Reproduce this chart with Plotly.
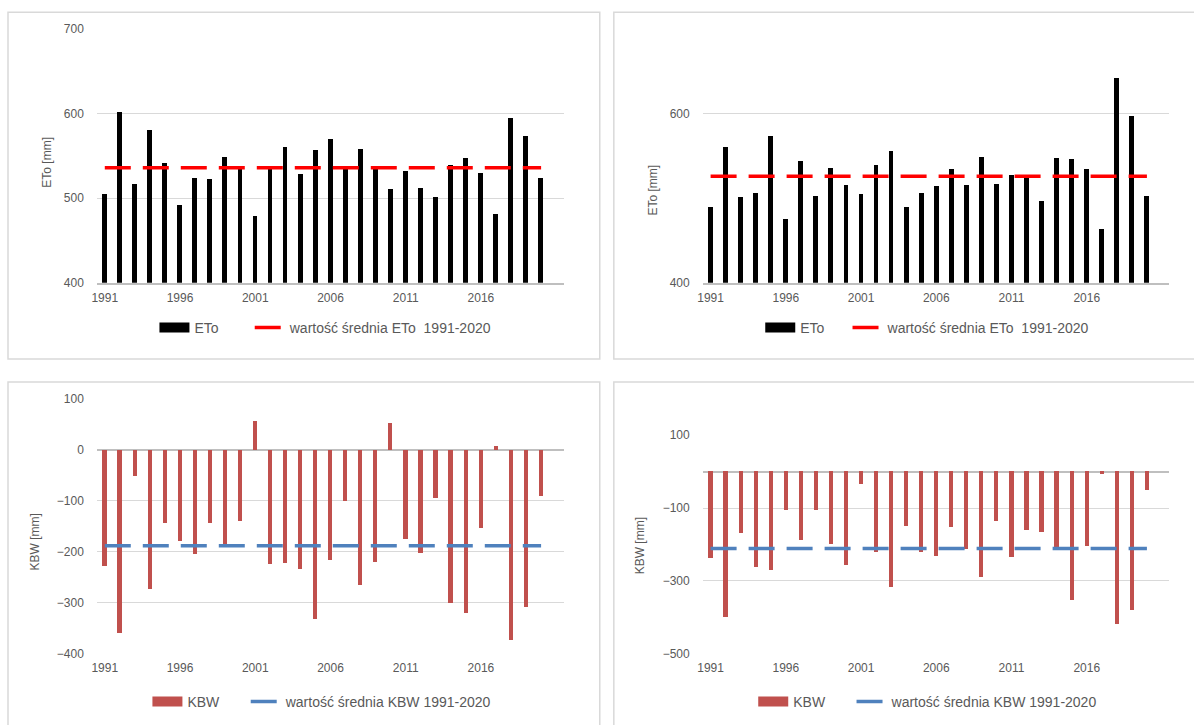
import plotly.graph_objects as go

# ---------------- data ----------------
years = list(range(1991, 2021))
xtick_vals = [1991, 1996, 2001, 2006, 2011, 2016]

eto_left = [505, 602, 517, 581, 541, 492, 524, 523, 548, 536,
            479, 535, 561, 529, 557, 570, 535, 558, 535, 511,
            532, 512, 501, 539, 547, 530, 481, 595, 573, 524]
eto_left_mean = 536

eto_right = [489, 560, 501, 506, 574, 475, 544, 502, 535, 516,
             505, 539, 556, 489, 506, 514, 534, 516, 548, 517,
             527, 526, 497, 547, 546, 534, 463, 642, 597, 503]
eto_right_mean = 526

kbw_left = [-228, -359, -51, -273, -143, -178, -205, -144, -190, -140,
            56, -224, -223, -233, -333, -216, -101, -266, -220, 52,
            -175, -203, -94, -300, -321, -154, 7, -374, -308, -90]
kbw_left_mean = -188

kbw_right = [-237, -401, -170, -263, -271, -107, -188, -107, -199, -257,
             -35, -221, -318, -150, -221, -232, -153, -214, -290, -137,
             -234, -161, -165, -212, -353, -206, -6, -420, -381, -52]
kbw_right_mean = -211

# ---------------- layout helpers ----------------
# target pixel positions (as measured on the reference) -> paper fractions,
# compensating for the small offset/scale seen in the captured picture
W, H = 1194, 725
SX, OX = 0.992, 7.0
SY, OY = 0.9784, 7.83
def px(x):
    return ((x - OX) / SX) / W
def py(y):
    return 1 - ((y - OY) / SY) / H

FONT = "Liberation Sans, Arial, sans-serif"
GRAY = "#595959"
GRID = "#d9d9d9"
AXIS = "#bfbfbf"
RED_BAR = "#c0504d"
BLUE = "#4f81bd"

panels = [
    dict(vals=eto_left, mean=eto_left_mean, name="ETo", mname="wartość średnia ETo  1991-2020",
         bar="#000000", line="#ff0000", bw=0.32, xd=(98, 563), yd=(30, 283), yr=[400, 700],
         tick0=400, dtick=100, title="ETo [mm]", tpos=(47, 163), leg1=(155, 328), leg2=(250, 328), zero=False),
    dict(vals=eto_right, mean=eto_right_mean, name="ETo", mname="wartość średnia ETo  1991-2020",
         bar="#000000", line="#ff0000", bw=0.32, xd=(702, 1167), yd=(30, 283), yr=[400, 700],
         tick0=400, dtick=200, title="ETo [mm]", tpos=(652, 190), leg1=(759, 328), leg2=(846, 328), zero=False),
    dict(vals=kbw_left, mean=kbw_left_mean, name="KBW", mname="wartość średnia KBW 1991-2020",
         bar=RED_BAR, line=BLUE, bw=0.28, xd=(98, 563), yd=(399, 653), yr=[-400, 100],
         tick0=100, dtick=100, title="KBW [mm]", tpos=(36, 542), leg1=(148, 701), leg2=(246, 701), zero=True),
    dict(vals=kbw_right, mean=kbw_right_mean, name="KBW", mname="wartość średnia KBW 1991-2020",
         bar=RED_BAR, line=BLUE, bw=0.28, xd=(702, 1167), yd=(435, 653), yr=[-500, 100],
         tick0=100, dtick=200, title="KBW [mm]", tpos=(640, 545), leg1=(752, 701), leg2=(850, 701), zero=True),
]

fig = go.Figure()
layout = dict(
    autosize=True, margin=dict(l=0, r=0, t=0, b=0),
    paper_bgcolor="white", plot_bgcolor="white",
    font=dict(family=FONT, color=GRAY, size=12),
    showlegend=True, shapes=[], annotations=[], bargap=0,
)

for i, p in enumerate(panels):
    n = "" if i == 0 else str(i + 1)
    xa, ya = "x" + n, "y" + n
    lgA = "legend" if i == 0 else "legend" + str(2 * i + 1)
    lgB = "legend" + str(2 * i + 2)
    fig.add_trace(go.Bar(x=years, y=p["vals"], width=p["bw"], marker=dict(color=p["bar"], line=dict(width=0)),
                         xaxis=xa, yaxis=ya, showlegend=False, name=p["name"]))
    # legend key for the bars (wide block like the original)
    fig.add_trace(go.Scatter(x=[None], y=[None], mode="lines", line=dict(color=p["bar"], width=13),
                             name=p["name"], xaxis=xa, yaxis=ya, legend=lgA))
    fig.add_trace(go.Scatter(x=years, y=[p["mean"]] * len(years), mode="lines",
                             line=dict(color=p["line"], width=3.5, dash="26px,12px"),
                             name=p["mname"], xaxis=xa, yaxis=ya, legend=lgB))
    layout["xaxis" + n] = dict(
        domain=[px(p["xd"][0]), px(p["xd"][1])], anchor=ya, range=[1990.5, 2021.5],
        tickmode="array", tickvals=xtick_vals, ticktext=[str(v) for v in xtick_vals],
        showgrid=False, zeroline=False, showline=not p["zero"], linecolor=AXIS, linewidth=2,
        ticks="outside", ticklen=3, tickcolor="rgba(0,0,0,0)", tickfont=dict(size=12, color=GRAY),
        fixedrange=True)
    layout["yaxis" + n] = dict(
        domain=[py(p["yd"][1]), py(p["yd"][0])], anchor=xa, range=p["yr"],
        tickmode="linear", tick0=p["tick0"], dtick=p["dtick"],
        showgrid=True, gridcolor=GRID, gridwidth=1,
        zeroline=p["zero"], zerolinecolor=AXIS, zerolinewidth=2,
        showline=False, ticks="outside", ticklen=10, tickcolor="rgba(0,0,0,0)",
        tickfont=dict(size=12, color=GRAY), fixedrange=True)
    for lg, key in ((lgA, "leg1"), (lgB, "leg2")):
        layout[lg] = dict(
            orientation="h", x=px(p[key][0]), y=py(p[key][1]), xanchor="left", yanchor="middle",
            font=dict(size=14, color=GRAY), bgcolor="rgba(0,0,0,0)", itemwidth=30)
    layout["annotations"].append(dict(
        text=p["title"], x=px(p["tpos"][0]), y=py(p["tpos"][1]), xref="paper", yref="paper",
        showarrow=False, textangle=-90, font=dict(size=12, color=GRAY),
        xanchor="center", yanchor="middle"))

# panel frames
for (x0, y0, x1, y1) in [(9, 13, 599, 359), (613, 13, 1215, 359), (9, 382, 599, 745), (613, 382, 1215, 745)]:
    layout["shapes"].append(dict(type="rect", xref="paper", yref="paper",
                                 x0=px(x0), x1=px(x1), y0=py(y1), y1=py(y0),
                                 line=dict(color="#d9d9d9", width=1.5), fillcolor="rgba(0,0,0,0)", layer="below"))

fig.update_layout(**layout)
fig.write_html("out.html", config={"displayModeBar": False, "responsive": True},
               default_width="100vw",
               default_height="100vh; position:fixed; top:0; left:0")
